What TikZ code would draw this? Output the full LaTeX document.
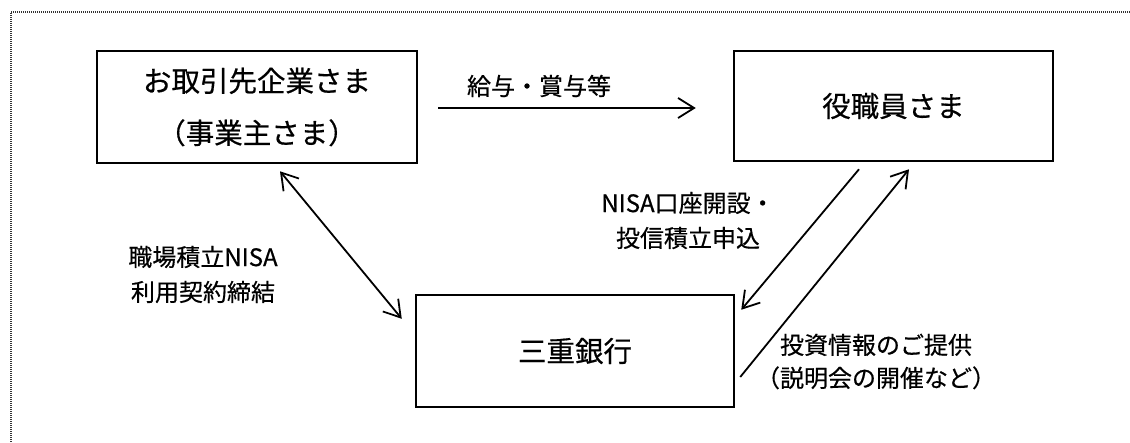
\documentclass[tikz,border=0pt]{standalone}
\usepackage{fontspec}
\setmainfont{Noto Sans CJK JP}[FakeBold=0.5]
\usetikzlibrary{arrows.meta,calc}
\tikzset{
  party/.style={draw=black, line width=2.5pt, inner sep=0pt, align=center,
    font=\fontsize{28.5pt}{52pt}\selectfont},
  lbl/.style={align=center, inner sep=0pt, font=\fontsize{24pt}{35pt}\selectfont},
  arr/.style={line width=1.8pt, -{Straight Barb[length=16pt,width=20pt,line width=1.8pt]}},
  darr/.style={line width=1.8pt, {Straight Barb[length=16pt,width=20pt,line width=1.8pt]}-{Straight Barb[length=16pt,width=20pt,line width=1.8pt]}},
  dotborder/.style={line width=1.6pt, black!80, dash pattern=on 1pt off 1pt}
}
\begin{document}
\begin{tikzpicture}[x=1pt,y=-1pt]
\useasboundingbox (0,0) rectangle (1130,442);
\fill[white] (0,0) rectangle (1130,442);
\draw[dotborder] (11,442) -- (11,12) -- (1130,12);

\node[party, minimum width=320pt, minimum height=112pt] (A) at (257,107) {お取引先企業さま\\（事業主さま）};
\node[party, minimum width=319pt, minimum height=110pt] (B) at (893.5,106) {役職員さま};
\node[party, minimum width=318pt, minimum height=112pt] (C) at (575,351) {三重銀行};

\node[lbl] (l1) at (539,86) {給与・賞与等};
\node[lbl] (l2) at (203,274.5) {職場積立NISA\\利用契約締結};
\node[lbl] (l3) at (688,220.5) {NISA口座開設・\\投信積立申込};
\node[lbl, font=\fontsize{24pt}{33pt}\selectfont] (l4) at (876,361.5) {投資情報のご提供\\（説明会の開催など）};

\draw[arr] ($(A.east)+(20,1)$) -- ($(B.west)+(-37,2)$);
\draw[darr] ($(A.south)+(23,7)$) -- ($(C.north west)+(-13,25)$);
\draw[arr] ($(B.south)+(-34.5,7)$) -- ($(C.north east)+(6,16)$);
\draw[arr] ($(C.east)+(5,26)$) -- ($(B.south)+(15.5,7)$);
\end{tikzpicture}
\end{document}
